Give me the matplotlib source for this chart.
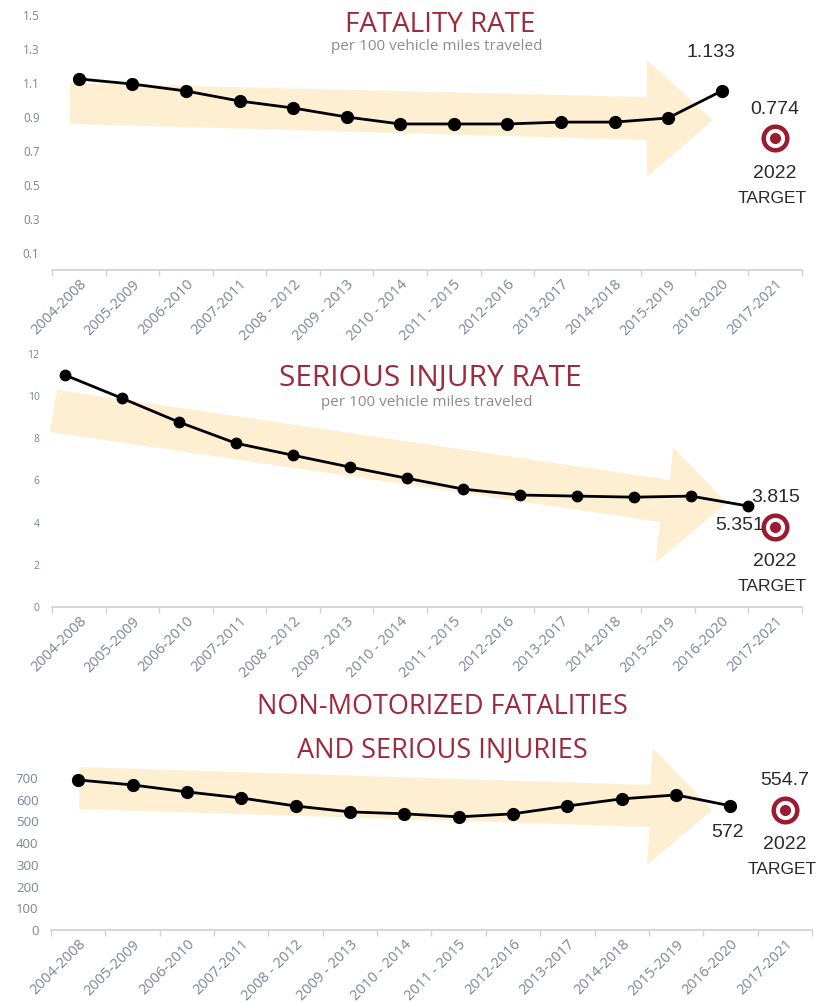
import numpy as np
import matplotlib as mpl
mpl.use('Agg')
from matplotlib import pyplot as plt
from matplotlib.patches import Polygon

# x categories (5-year periods)
periods = ['2004-2008', '2005-2009', '2006-2010', '2007-2011', '2008 - 2012',
           '2009 - 2013', '2010 - 2014', '2011 - 2015', '2012-2016', '2013-2017',
           '2014-2018', '2015-2019', '2016-2020', '2017-2021']

# values (13 periods, 2004-2008 .. 2016-2020)
fatality_rate = [1.124, 1.094, 1.053, 0.994, 0.953, 0.90, 0.859, 0.859, 0.859,
                 0.87, 0.87, 0.894, 1.053]
serious_injury_rate = [11.0, 9.9, 8.77, 7.77, 7.2, 6.64, 6.11, 5.59, 5.31,
                       5.26, 5.21, 5.26, 4.79]
nonmotorized = [691, 668, 636, 608, 571, 544, 535, 521, 535, 571, 604, 622, 572]

latest_labels = ['1.133', '5.351', '572']
target_values = [0.774, 3.815, 554.7]
target_labels = ['0.774', '3.815', '554.7']

fat_ticks = [0.1, 0.3, 0.5, 0.7, 0.9, 1.1, 1.3, 1.5]
ser_ticks = [0, 2, 4, 6, 8, 10, 12]
non_ticks = [0, 100, 200, 300, 400, 500, 600, 700]

W, H = 825, 1002
TITLE_RED = '#9E2A3E'
TARGET_RED = '#9B1B30'
ARROW = '#FEEFD2'
TICK_GRAY = '#7d8499'
NUM = '#2a2a2a'

fig = plt.figure(figsize=(W / 100, H / 100), dpi=100)
fig.patch.set_facecolor('white')


def rect(l, r, t, b):
    return [l / W, 1 - b / H, (r - l) / W, (b - t) / H]


panels = [
    dict(rect=rect(52, 802, 15, 270), vals=fatality_rate, ylim=(0, 1.5), yticks=fat_ticks,
         yfmt='{:.1f}', ysize=8.5, line_xlim=(-0.5, 13.5), ms=8.5,
         arrow=[(0.024, 0.733), (0.793, 0.678), (0.793, 0.824), (0.881, 0.588),
                (0.793, 0.365), (0.793, 0.510), (0.024, 0.573)],
         titles=[('FATALITY RATE', 0.517, 0.961, 20)], sub=(0.513, 0.875),
         latest_off=(-8, 28)),
    dict(rect=rect(52, 802, 354, 607), vals=serious_injury_rate, ylim=(0, 12), yticks=ser_ticks,
         yfmt='{:d}', ysize=7.5, line_xlim=(-0.23, 12.95), ms=7.5,
         arrow=[(0.007, 0.858), (0.824, 0.502), (0.828, 0.632), (0.900, 0.411),
                (0.804, 0.174), (0.811, 0.336), (-0.003, 0.692)],
         titles=[('SERIOUS INJURY RATE', 0.504, 0.905, 21.5)], sub=(0.50, 0.81),
         latest_off=(-6, -14)),
    dict(rect=rect(51, 812, 778, 930), vals=nonmotorized, ylim=(0, 700), yticks=non_ticks,
         yfmt='{:d}', ysize=9.5, line_xlim=(-0.5, 13.5), ms=8.5,
         arrow=[(0.038, 1.072), (0.787, 0.954), (0.791, 1.197), (0.869, 0.789),
                (0.783, 0.428), (0.787, 0.678), (0.037, 0.796)],
         titles=[('NON-MOTORIZED FATALITIES', 0.514, 1.467, 19.5),
                 ('AND SERIOUS INJURIES', 0.514, 1.184, 19.5)], sub=None,
         latest_off=(-2, -19)),
]

x_cat = np.arange(len(periods))

for i, p in enumerate(panels):
    ax = fig.add_axes(p['rect'])
    ax.set_xlim(-0.5, len(periods) - 0.5)
    ax.set_ylim(*p['ylim'])
    for s in ['left', 'top', 'right']:
        ax.spines[s].set_visible(False)
    ax.spines['bottom'].set_color('#d4d4d4')
    ax.spines['bottom'].set_linewidth(1.3)

    # ticks at the category boundaries, labels at the centres
    ax.set_xticks(np.arange(-0.5, len(periods)))
    ax.set_xticklabels([])
    ax.set_xticks(x_cat, minor=True)
    ax.set_xticklabels(periods, minor=True, rotation=45, ha='right', va='top',
                       rotation_mode='anchor', fontsize=10.5, family='Open Sans',
                       color=TICK_GRAY)
    ax.tick_params(axis='x', which='major', length=4, color='#d4d4d4', width=1)
    ax.tick_params(axis='x', which='minor', length=0, pad=5)

    ax.set_yticks(p['yticks'])
    ax.set_yticklabels([p['yfmt'].format(v) for v in p['yticks']], fontsize=p['ysize'],
                       family='Open Sans', color=TICK_GRAY)
    ax.tick_params(axis='y', length=0, pad=9)

    ax.add_patch(Polygon(p['arrow'], closed=True, transform=ax.transAxes,
                         facecolor=ARROW, edgecolor='none', zorder=0, clip_on=False))

    for txt, tx, ty, fs in p['titles']:
        ax.text(tx, ty, txt, transform=ax.transAxes, ha='center', va='center',
                fontsize=fs, family='Open Sans', color=TITLE_RED)
    if p['sub'] is not None:
        ax.text(p['sub'][0], p['sub'][1], 'per 100 vehicle miles traveled',
                transform=ax.transAxes, ha='center', va='center', fontsize=11,
                family='Open Sans', color='#8c8c8c')

    # the trend line sits on its own x scale
    lax = ax.twiny()
    lax.set_xlim(*p['line_xlim'])
    lax.axis('off')
    xs = np.arange(len(p['vals']))
    lax.plot(xs, p['vals'], color='black', lw=2, marker='o', ms=p['ms'],
             clip_on=False, zorder=5)
    lax.annotate(latest_labels[i], xy=(xs[-1], p['vals'][-1]), xytext=p['latest_off'],
                 textcoords='offset points', ha='center', va='center', fontsize=14,
                 family='Liberation Sans', color=NUM)

    # 2022 target
    tx = len(periods) - 1
    tv = target_values[i]
    ax.plot([tx], [tv], marker='o', ms=17, mfc='white', mec=TARGET_RED, mew=3.2,
            clip_on=False, zorder=6)
    ax.plot([tx], [tv], marker='o', ms=7, mfc=TARGET_RED, mec=TARGET_RED,
            clip_on=False, zorder=7)
    ax.annotate(target_labels[i], xy=(tx, tv), xytext=(0, 21), textcoords='offset points',
                ha='center', va='center', fontsize=14, family='Liberation Sans', color=NUM)
    ax.annotate('2022', xy=(tx, tv), xytext=(0, -25), textcoords='offset points',
                ha='center', va='center', fontsize=14, family='Liberation Sans', color=NUM)
    ax.annotate('TARGET', xy=(tx, tv), xytext=(-2, -43), textcoords='offset points',
                ha='center', va='center', fontsize=12.5, family='Liberation Sans', color=NUM)

fig.savefig('out.png', dpi=100)
